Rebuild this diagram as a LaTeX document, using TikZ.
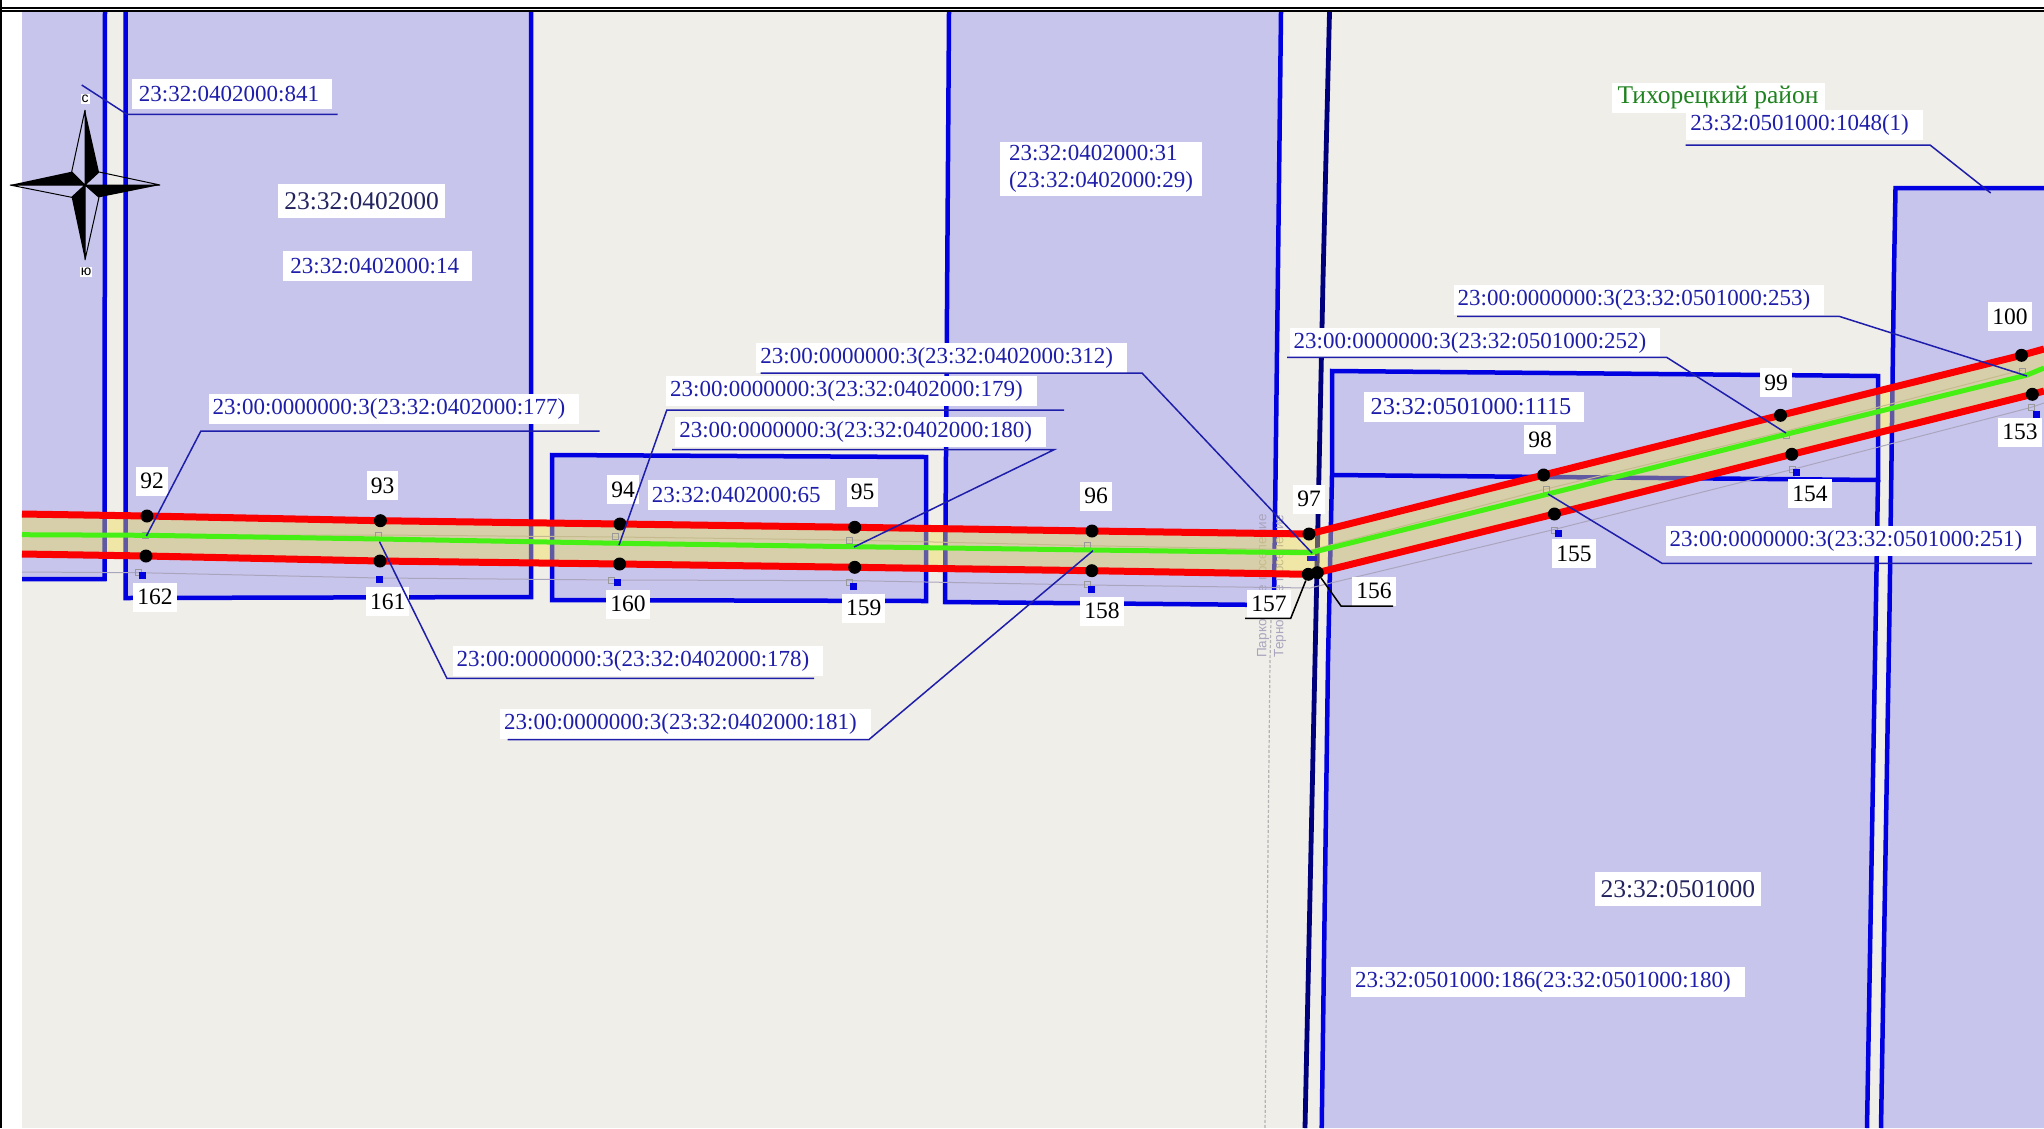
\documentclass[tikz,border=0pt]{standalone}
\usepackage{fontspec}
\setmainfont{Liberation Serif}
\setsansfont{Liberation Sans}
\definecolor{parcelfill}{RGB}{199,197,236}
\definecolor{groundfill}{RGB}{240,238,232}
\definecolor{edgeblue}{RGB}{0,0,225}
\definecolor{roadnavy}{RGB}{0,0,125}
\definecolor{leadblue}{RGB}{30,30,170}
\definecolor{quarterblue}{RGB}{35,35,95}
\definecolor{stripfill}{RGB}{240,222,70}
\definecolor{redline}{RGB}{250,0,0}
\definecolor{greenline}{RGB}{70,240,20}
\definecolor{faintline}{RGB}{170,165,190}
\definecolor{regiongreen}{RGB}{30,130,30}
\tikzset{
  parcel/.style={fill=parcelfill},
  edge/.style={draw=edgeblue,line width=4.5pt,line join=miter},
  dot/.style={circle,fill=black,minimum size=13pt,inner sep=0pt},
  numlab/.style={fill=white,text=black,inner xsep=4pt,inner ysep=3pt,minimum height=29pt,font=\fontsize{23.5}{25}\selectfont},
  plainlab/.style={fill=white,text=leadblue,inner xsep=4pt,inner ysep=3pt,minimum height=30pt,font=\fontsize{23}{27}\selectfont},
  cadlab/.style={plainlab,execute at end node={\hspace*{10pt}}},
  shortlab/.style={plainlab,inner xsep=7pt,execute at end node={\hspace*{6pt}}},
  quarterlab/.style={fill=white,text=quarterblue,inner xsep=6pt,inner ysep=5pt,minimum height=34pt,font=\fontsize{25.5}{28}\selectfont},
  lead/.style={draw=leadblue,line width=1.5pt},
  blacklead/.style={draw=black,line width=1.5pt},
  greysq/.style={draw=gray!80,minimum size=6pt,inner sep=0pt,line width=0.8pt},
  bluesq/.style={fill=edgeblue,minimum size=7pt,inner sep=0pt},
  compasslab/.style={fill=white,inner sep=1pt,font=\sffamily\fontsize{14}{14}\selectfont},
  vertlab/.style={rotate=90,text=faintline,font=\sffamily\fontsize{13.5}{14}\selectfont},
  compassline/.style={black,line width=1pt,line join=bevel}
}
\begin{document}
\begin{tikzpicture}[x=1pt,y=-1pt]
  \useasboundingbox (0,0) rectangle (2044,1128);
  \fill[white] (0,0) rectangle (2044,1128);
  \fill[groundfill] (22,12) rectangle (2044,1128);

  \fill[parcel] (22,12) -- (105,12) -- (104.5,579) -- (22,579) -- cycle;
  \fill[parcel] (125.5,12) -- (125.5,598) -- (531,597) -- (531,12) -- cycle;
  \fill[parcel] (552,455) -- (926,457) -- (926,601) -- (552,600) -- cycle;
  \fill[parcel] (949,12) -- (945,602) -- (1274,605) -- (1281,12) -- cycle;
  \fill[parcel] (1332,371) -- (1878,376) -- (1878,480) -- (1332,475) -- cycle;
  \fill[parcel] (1332,475) -- (1328,660) -- (1321.7,1128) -- (1867,1128) -- (1876,600) -- (1878,480) -- cycle;
  \fill[parcel] (1895.5,188) -- (2044,188) -- (2044,1128) -- (1881,1128) -- (1889.5,610) -- (1894,270) -- cycle;

  \draw[edge] (105,12) -- (104.5,579) -- (22,579);
  \draw[edge] (125.5,12) -- (125.5,598) -- (531,597) -- (531,12);
  \draw[edge] (552,455) -- (926,457) -- (926,601) -- (552,600) -- cycle;
  \draw[edge] (949,12) -- (945,602) -- (1274,605) -- (1281,12);
  \draw[edge] (1332,475) -- (1332,371) -- (1878,376) -- (1878,480) -- (1332,475);
  \draw[edge] (1332,475) -- (1328,660) -- (1321.7,1128);
  \draw[edge] (1878,480) -- (1876,600) -- (1867,1128);
  \draw[edge] (2044,188) -- (1895.5,188) -- (1894,270) -- (1889.5,610) -- (1881,1128);
  \draw[draw=roadnavy,line width=4.8pt] (1329.5,12) -- (1323,280) -- (1318,520) -- (1315,660) -- (1305,1128);

  \draw[faintline,line width=1pt] (22,572) -- (139,572.7) -- (380,578) -- (617,580) -- (855,580.7) -- (1090,585) -- (1310,588) -- (1552,530) -- (1790,470) -- (2030,407.7) -- (2044,403);
  \draw[faintline,line width=1pt] (145,535) -- (380,535) -- (617,537) -- (850,540) -- (1090,545.7) -- (1311,550);
  \draw[faintline,line width=1pt] (1311,550) -- (1546,489) -- (1786,431) -- (2022,370);
  \draw[gray!60,densely dashed,line width=1.2pt] (1271,620) -- (1270,660) -- (1265,1128);
  \node[vertlab] (parkovskoe) at (1263,586) {Парковское поселение};
  \node[vertlab] (ternovskoe) at (1280,586) {Терновское поселение};

  \fill[stripfill,fill opacity=0.4] (22,514) -- (147,516) -- (380.4,520.7) -- (620,524) -- (854.7,527.3) -- (1092,531) -- (1309,534) -- (1543.6,475) -- (1780.5,415.3) -- (2021.5,355.3) -- (2044,349) -- (2044,391) -- (2032.3,394.3) -- (1791.8,454.3) -- (1554.4,514) -- (1317.3,572.7) -- (1308.3,574.3) -- (1091.8,570.7) -- (854.7,567.3) -- (619.6,564) -- (380,561) -- (146,556) -- (22,554) -- cycle;

  \node[greysq] (sq92) at (145,535) {};
  \node[greysq] (sq93) at (378.6,535) {};
  \node[greysq] (sq94) at (615.6,536.7) {};
  \node[greysq] (sq95) at (849,540.7) {};
  \node[greysq] (sq96) at (1087.8,545.7) {};
  \node[greysq] (sq98) at (1546,489) {};
  \node[greysq] (sq99) at (1786.4,435.7) {};
  \node[greysq] (sq100) at (2022.4,371.7) {};
  \node[greysq] (sq162) at (138.8,572.7) {};
  \node[greysq] (sq160) at (611,580) {};
  \node[greysq] (sq159) at (849.8,582) {};
  \node[greysq] (sq158) at (1087.8,584.3) {};
  \node[greysq] (sq155) at (1554.4,530) {};
  \node[greysq] (sq154) at (1792.7,469.3) {};
  \node[greysq] (sq153) at (2031.4,407.3) {};
  \node[bluesq] (bs162) at (142,575.7) {};
  \node[bluesq] (bs161) at (379,579.3) {};
  \node[bluesq] (bs160) at (617,582) {};
  \node[bluesq] (bs159) at (853.8,586) {};
  \node[bluesq] (bs158) at (1091,589.3) {};
  \node[bluesq] (bs155) at (1558,533.3) {};
  \node[bluesq] (bs154) at (1796.8,472) {};
  \node[bluesq] (bs153) at (2036,414) {};
  \node[fill=edgeblue!70!gray,minimum width=10pt,minimum height=5pt,inner sep=0pt] (bs97) at (1311.7,558) {};

  \draw[redline,line width=7pt] (22,514) -- (147,516) -- (380.4,520.7) -- (620,524) -- (854.7,527.3) -- (1092,531) -- (1309,534) -- (1543.6,475) -- (1780.5,415.3) -- (2021.5,355.3) -- (2044,349);
  \draw[redline,line width=7pt] (22,554) -- (146,556) -- (380,561) -- (619.6,564) -- (854.7,567.3) -- (1091.8,570.7) -- (1308.3,574.3) -- (1317.3,572.7) -- (1554.4,514) -- (1791.8,454.3) -- (2032.3,394.3) -- (2044,391);
  \draw[greenline,line width=5pt] (22,534.7) -- (147,535.3) -- (380,539) -- (620,543.3) -- (855,546.7) -- (1092,550) -- (1270,552.3) -- (1311,552.7) -- (1548,494) -- (1786,434.3) -- (2027,375) -- (2044,368);

  \node[dot] (n92) at (147,516) {};
  \node[dot] (n93) at (380.4,520.7) {};
  \node[dot] (n94) at (620,524) {};
  \node[dot] (n95) at (854.7,527.3) {};
  \node[dot] (n96) at (1092,531) {};
  \node[dot] (n97) at (1309,534) {};
  \node[dot] (n98) at (1543.6,475) {};
  \node[dot] (n99) at (1780.5,415.3) {};
  \node[dot] (n100) at (2021.5,355.3) {};
  \node[dot] (n153) at (2032.3,394.3) {};
  \node[dot] (n154) at (1791.8,454.3) {};
  \node[dot] (n155) at (1554.4,514) {};
  \node[dot] (n156) at (1317.3,572.7) {};
  \node[dot] (n157) at (1308.3,574.3) {};
  \node[dot] (n158) at (1091.8,570.7) {};
  \node[dot] (n159) at (854.7,567.3) {};
  \node[dot] (n160) at (619.6,564) {};
  \node[dot] (n161) at (380,561) {};
  \node[dot] (n162) at (146,556) {};

  \node[numlab] (l92) at (152,481) {92};
  \node[numlab] (l93) at (382.5,485.5) {93};
  \node[numlab] (l94) at (623,489.5) {94};
  \node[numlab] (l95) at (862.7,492) {95};
  \node[numlab] (l96) at (1096,496) {96};
  \node[numlab] (l97) at (1309,499) {97};
  \node[numlab] (l98) at (1540,439.5) {98};
  \node[numlab] (l99) at (1776,382.5) {99};
  \node[numlab] (l100) at (2010,316.5) {100};
  \node[numlab] (l153) at (2020,432) {153};
  \node[numlab] (l154) at (1810,493.5) {154};
  \node[numlab] (l155) at (1574,553.5) {155};
  \node[numlab] (l156) at (1374,591) {156};
  \node[numlab] (l157) at (1269,604) {157};
  \node[numlab] (l158) at (1102,611) {158};
  \node[numlab] (l159) at (863.8,608) {159};
  \node[numlab] (l160) at (628,604) {160};
  \node[numlab] (l161) at (387.7,601.5) {161};
  \node[numlab] (l162) at (155,597) {162};

  \node[shortlab] (c841) at (232,94) {23:32:0402000:841};
  \node[quarterlab] (q0402) at (361.6,201.3) {23:32:0402000};
  \node[shortlab] (c14) at (377.7,266.3) {23:32:0402000:14};
  \node[cadlab] (c65) at (741.3,495) {23:32:0402000:65};
  \node[plainlab,align=left,inner xsep=9pt] (c31) at (1101,169) {23:32:0402000:31\\(23:32:0402000:29)};
  \node[shortlab,font=\fontsize{24.3}{27}\selectfont] (c1115) at (1474,407) {23:32:0501000:1115};
  \node[cadlab] (c186) at (1548,981.5) {23:32:0501000:186(23:32:0501000:180)};
  \node[quarterlab] (q0501) at (1677.8,889) {23:32:0501000};
  \node[cadlab] (c1048) at (1804.6,125) {23:32:0501000:1048(1)};
  \node[plainlab,text=regiongreen,inner xsep=6pt,font=\fontsize{25.5}{28}\selectfont] (region) at (1718,97.5) {Тихорецкий район};
  \node[cadlab] (c177) at (394,409) {23:00:0000000:3(23:32:0402000:177)};
  \node[cadlab] (c178) at (638,660.5) {23:00:0000000:3(23:32:0402000:178)};
  \node[cadlab] (c179) at (851.5,391) {23:00:0000000:3(23:32:0402000:179)};
  \node[cadlab] (c180) at (860.6,432) {23:00:0000000:3(23:32:0402000:180)};
  \node[cadlab] (c181) at (685.5,723.5) {23:00:0000000:3(23:32:0402000:181)};
  \node[cadlab] (c312) at (941.7,357.5) {23:00:0000000:3(23:32:0402000:312)};
  \node[cadlab] (c251) at (1851,541) {23:00:0000000:3(23:32:0501000:251)};
  \node[cadlab] (c252) at (1475,343) {23:00:0000000:3(23:32:0501000:252)};
  \node[cadlab] (c253) at (1639,300) {23:00:0000000:3(23:32:0501000:253)};

  \coordinate (a841) at (337.5,114.3);
  \coordinate (b841) at (127,114.3);
  \coordinate (t841) at (81.7,85);
  \coordinate (a177) at (599.5,431);
  \coordinate (b177) at (200.9,431);
  \coordinate (t177) at (146.4,536);
  \coordinate (a178) at (814,678.3);
  \coordinate (b178) at (446.9,678.3);
  \coordinate (t178) at (379.5,541.7);
  \coordinate (a179) at (1064,410);
  \coordinate (b179) at (666.8,410);
  \coordinate (t179) at (619,545);
  \coordinate (a180) at (672,449.7);
  \coordinate (b180) at (1054,449.7);
  \coordinate (t180) at (854,547);
  \coordinate (a181) at (507.6,739.5);
  \coordinate (b181) at (869,739.5);
  \coordinate (t181) at (1093,550.7);
  \coordinate (a312) at (760.5,373);
  \coordinate (b312) at (1142,373);
  \coordinate (t312) at (1312,553);
  \coordinate (a251) at (2032,563.3);
  \coordinate (b251) at (1662,563.3);
  \coordinate (t251) at (1548,494);
  \coordinate (a252) at (1287,357.3);
  \coordinate (b252) at (1666.6,357.3);
  \coordinate (t252) at (1786,433);
  \coordinate (a253) at (1457,316.3);
  \coordinate (b253) at (1839,316.3);
  \coordinate (t253) at (2027,376);
  \coordinate (a1048) at (1685.7,145);
  \coordinate (b1048) at (1930,145);
  \coordinate (t1048) at (1990.7,193);
  \coordinate (a157) at (1245,618.3);
  \coordinate (b157) at (1290.7,618.3);
  \coordinate (a156) at (1393,606);
  \coordinate (b156) at (1341,606);

  \draw[lead] (a841) -- (b841) -- (t841);
  \draw[lead] (a177) -- (b177) -- (t177);
  \draw[lead] (a178) -- (b178) -- (t178);
  \draw[lead] (a179) -- (b179) -- (t179);
  \draw[lead] (a180) -- (b180) -- (t180);
  \draw[lead] (a181) -- (b181) -- (t181);
  \draw[lead] (a312) -- (b312) -- (t312);
  \draw[lead] (a251) -- (b251) -- (t251);
  \draw[lead] (a252) -- (b252) -- (t252);
  \draw[lead] (a253) -- (b253) -- (t253);
  \draw[lead] (a1048) -- (b1048) -- (t1048);
  \draw[blacklead] (a157) -- (b157) -- (n157);
  \draw[blacklead] (a156) -- (b156) -- (n156);

  \draw[compassline] (85,185) -- (85,110) -- (71.7,171.7) -- cycle;
  \draw[compassline] (85,185) -- (160,185) -- (99,172) -- cycle;
  \draw[compassline] (85,185) -- (85,260) -- (99,197.3) -- cycle;
  \draw[compassline] (85,185) -- (10,185) -- (71.7,197.3) -- cycle;
  \fill[black] (85,185) -- (85,110) -- (99,172) -- cycle;
  \fill[black] (85,185) -- (160,185) -- (99,197.3) -- cycle;
  \fill[black] (85,185) -- (85,260) -- (71.7,197.3) -- cycle;
  \fill[black] (85,185) -- (10,185) -- (71.7,171.7) -- cycle;
  \node[compasslab] (north) at (85,99) {с};
  \node[compasslab] (south) at (86,272) {ю};

  \fill[black] (0,6.7) rectangle (2044,9.2);
  \fill[black] (0,9.8) rectangle (2044,12.3);
  \fill[black] (0,0) rectangle (2.2,1128);
\end{tikzpicture}
\end{document}
